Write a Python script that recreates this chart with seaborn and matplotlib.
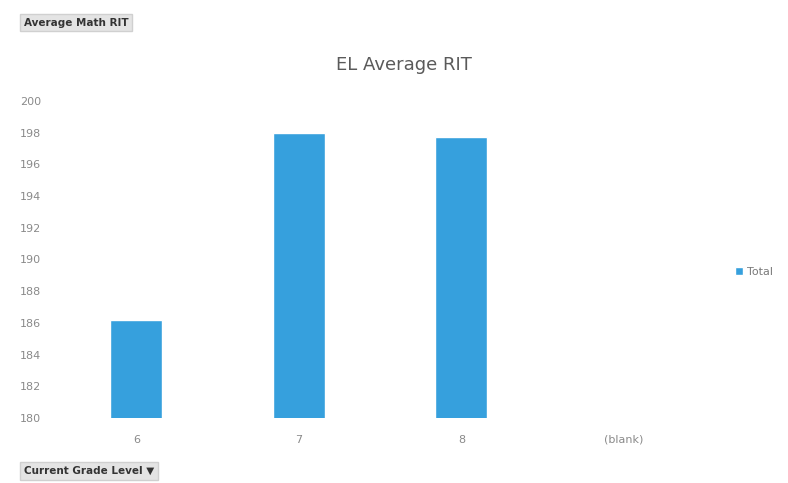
import pandas as pd
import matplotlib.pyplot as plt
import seaborn as sns
import numpy as np

grades = ['6', '7', '8', '(blank)']
avg_rit = [186.2, 198.0, 197.7, np.nan]

df = pd.DataFrame({'Grade': grades, 'RIT': avg_rit, 'Series': 'Total'})

sns.set_style('white')
plt.rcParams['font.family'] = ['DejaVu Sans']

fig = plt.figure(figsize=(7.88, 4.83), dpi=100)
ax = fig.add_axes([0.07, 0.1346, 0.825, 0.6566])

sns.barplot(data=df, x='Grade', y='RIT', hue='Series', order=grades,
            palette=['#36a0dd'], saturation=1, width=0.32, ax=ax)

ax.set_ylim(180, 200)
ax.set_yticks(np.arange(180, 201, 2))
ax.set_xlabel('')
ax.set_ylabel('')
ax.tick_params(axis='both', colors='#8a8a8a', labelsize=8, length=0)
ax.tick_params(axis='x', pad=12)
ax.tick_params(axis='y', pad=10)
sns.despine(ax=ax, left=True, bottom=True)
ax.set_xlim(-0.5, 3.5)

fig.text(0.512, 0.865, 'EL Average RIT', ha='center', va='center',
         fontsize=13, color='#5a5a5a')

ax.legend(loc='center left', bbox_to_anchor=(1.03, 0.46), frameon=False,
          fontsize=8, labelcolor='#7a7a7a', handlelength=0.7, handleheight=0.7,
          handletextpad=0.4)

fig.text(0.03, 0.953, 'Average Math RIT', ha='left', va='center', fontsize=7.5,
         fontweight='bold', color='#333333',
         bbox=dict(boxstyle='square,pad=0.35', fc='#e4e4e4', ec='#d0d0d0'))
fig.text(0.03, 0.025, 'Current Grade Level \u25bc', ha='left', va='center', fontsize=7.5,
         fontweight='bold', color='#333333',
         bbox=dict(boxstyle='square,pad=0.35', fc='#e4e4e4', ec='#d0d0d0'))

fig.savefig('out.png', dpi=100)
